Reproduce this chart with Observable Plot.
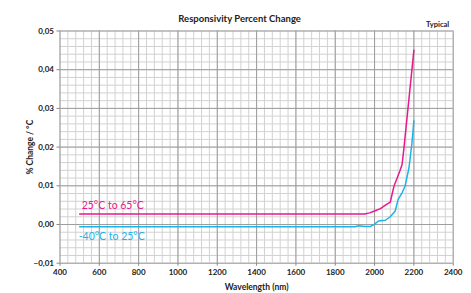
<!DOCTYPE html>
<html>
<head>
<meta charset="utf-8">
<script src="https://cdn.jsdelivr.net/npm/d3@7"></script>
<script src="https://cdn.jsdelivr.net/npm/@observablehq/plot@0.6"></script>
<style>
  html, body { margin: 0; padding: 0; background: #fff; }
  svg { display: block; }
</style>
</head>
<body>
<div id="chart"></div>
<script>
// ---- data ----
const title = "Responsivity Percent Change";
const note = "Typical";
const xLabel = "Wavelength (nm)";
const yLabel = "% Change / °C";

const xTicks = [400, 600, 800, 1000, 1200, 1400, 1600, 1800, 2000, 2200, 2400];
const yTicks = [-0.01, 0.00, 0.01, 0.02, 0.03, 0.04, 0.05];

const hotName = "25°C to 65°C";
const hotWl  = [500, 1950, 1975, 2000, 2030, 2055, 2080, 2090, 2100, 2115, 2130, 2140, 2150, 2200];
const hotVal = [0.0027, 0.0027, 0.0030, 0.0035, 0.0041, 0.0050, 0.0058, 0.0080, 0.0101, 0.0120, 0.0140, 0.0155, 0.0200, 0.0450];

const coldName = "-40°C to 25°C";
const coldWl  = [500, 1900, 1920, 1950, 1980, 2000, 2020, 2055, 2080, 2105, 2120, 2140, 2155, 2175, 2190, 2200];
const coldVal = [-0.0006, -0.0006, -0.0003, -0.0005, -0.0005, 0.0001, 0.0009, 0.0011, 0.0020, 0.0035, 0.0065, 0.0082, 0.0099, 0.0146, 0.0210, 0.0268];

// ---- build ----
const hot = hotWl.map((x, i) => ({x, y: hotVal[i]}));
const cold = coldWl.map((x, i) => ({x, y: coldVal[i]}));
const minorX = d3.range(400, 2400 + 1, 40);
const minorY = d3.range(-0.01, 0.05 + 1e-9, 0.002);
const fmtY = d => d3.format(".2f")(d).replace(".", ",");
const fmtX = d => String(d);

const MAG = "#e8198b";
const CYA = "#1cb3ea";
const FONT = "Lato, 'Open Sans', sans-serif";

const chart = Plot.plot({
  width: 471,
  height: 293,
  marginLeft: 59.5,
  marginRight: 18.3,
  marginTop: 30.5,
  marginBottom: 30.3,
  style: {fontFamily: FONT, background: "#fff"},
  x: {domain: [400, 2400]},
  y: {domain: [-0.01, 0.05]},
  marks: [
    Plot.ruleX(minorX, {stroke: "#d2d2d2", strokeWidth: 1}),
    Plot.ruleY(minorY, {stroke: "#d2d2d2", strokeWidth: 1}),
    Plot.ruleX(xTicks, {stroke: "#9d9d9d", strokeWidth: 1}),
    Plot.ruleY(yTicks, {stroke: "#9d9d9d", strokeWidth: 1}),
    Plot.axisX({ticks: xTicks, tickSize: 3, tickPadding: 3, stroke: "#888", fontSize: 8, fontWeight: "bold", fill: "#222", tickFormat: fmtX,
                label: xLabel, labelAnchor: "center", labelArrow: "none", labelOffset: 27}),
    Plot.axisY({ticks: yTicks, tickSize: 3, tickPadding: 3, stroke: "#888", fontSize: 8, fontWeight: "bold", fill: "#222", tickFormat: fmtY,
                label: yLabel, labelAnchor: "center", labelArrow: "none", labelOffset: 33}),
    Plot.line(hot, {x: "x", y: "y", stroke: MAG, strokeWidth: 1.5, curve: "linear"}),
    Plot.line(cold, {x: "x", y: "y", stroke: CYA, strokeWidth: 1.5, curve: "linear"}),
    Plot.text([hot[0]], {x: "x", y: "y", text: () => hotName, fill: MAG, fontSize: 10.5, textAnchor: "start", dx: 2, dy: -8}),
    Plot.text([cold[0]], {x: "x", y: "y", text: () => coldName, fill: CYA, fontSize: 10.5, textAnchor: "start", dx: -1, dy: 10}),
    Plot.text([title], {frameAnchor: "top", text: d => d, fontSize: 9.5, fontWeight: "bold", fill: "#222", dx: -17, dy: -16}),
    Plot.text([note], {frameAnchor: "top-right", text: d => d, fontSize: 7.5, fontWeight: "bold", fill: "#222", dx: -4, dy: -9, textAnchor: "end"})
  ]
});
// axis titles in bold, slightly larger
chart.querySelectorAll("[aria-label='x-axis label'] text, [aria-label='y-axis label'] text").forEach(t => {
  t.setAttribute("font-size", "8.5");
  t.setAttribute("font-weight", "bold");
});
document.getElementById("chart").appendChild(chart);
</script>
</body>
</html>
